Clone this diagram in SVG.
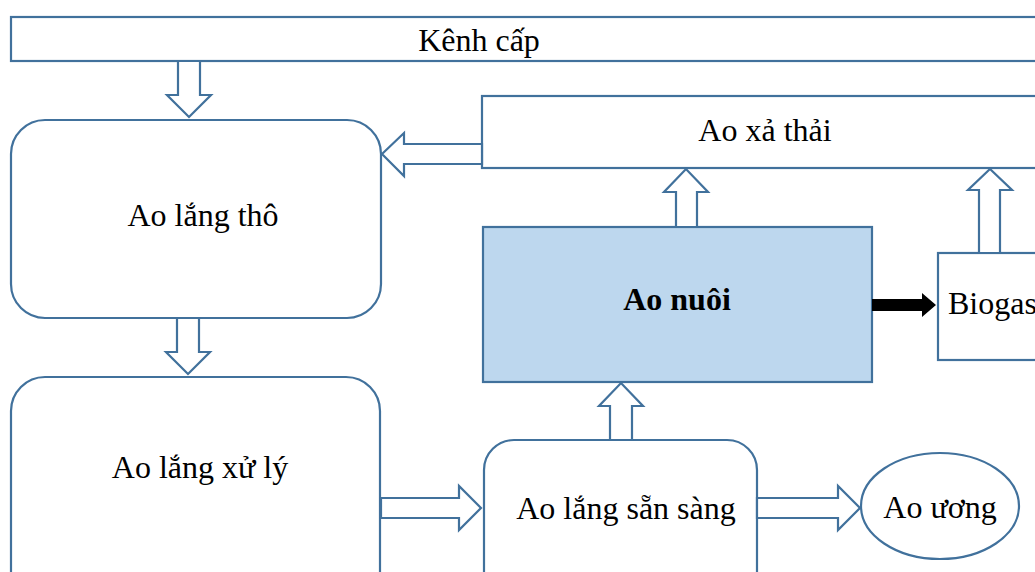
<svg xmlns="http://www.w3.org/2000/svg" width="1035" height="572" viewBox="0 0 1035 572">
<style>
.box{fill:#fff;stroke:#41719C;stroke-width:2.2}
.blue{fill:#BDD7EE;stroke:#41719C;stroke-width:2.2}
.arr{fill:#fff;stroke:#41719C;stroke-width:2.2;stroke-linejoin:miter}
.t{font-family:"Liberation Serif","Times New Roman",serif;font-size:32px;fill:#000;text-anchor:middle}
</style>
<rect width="1035" height="572" fill="#fff"/>
<g id="kenh-cap"><rect class="box" x="11" y="17" width="1040" height="44"/><text class="t" x="479" y="51">Kênh cấp</text></g>
<g id="ao-xa-thai"><rect class="box" x="482" y="96" width="570" height="72"/><text class="t" x="765" y="141">Ao xả thải</text></g>
<g id="ao-lang-tho"><rect class="box" x="11" y="120" width="370" height="198" rx="34"/><text class="t" x="203" y="226">Ao lắng thô</text></g>
<g id="ao-lang-xu-ly"><rect class="box" x="11" y="377" width="369" height="230" rx="34"/><text class="t" x="200" y="478">Ao lắng xử lý</text></g>
<g id="ao-nuoi"><rect class="blue" x="483" y="227" width="389" height="155"/><text class="t" x="677" y="310" font-weight="bold">Ao nuôi</text></g>
<g id="biogas"><rect class="box" x="938" y="253" width="110" height="107"/><text class="t" x="948" y="314" style="text-anchor:start">Biogas</text></g>
<g id="ao-lang-san-sang"><rect class="box" x="484" y="440" width="273" height="170" rx="30"/><text class="t" x="626" y="519">Ao lắng sẵn sàng</text></g>
<g id="ao-uong"><ellipse class="box" cx="940" cy="506" rx="79" ry="53"/><text class="t" x="940" y="518">Ao ương</text></g>
<g id="connectors">
<path class="arr" d="M178,61 V95 H167 L189,117 L211,95 H200 V61 Z"/>
<path class="arr" d="M177,318 V352 H166 L188,374 L210,352 H199 V318 Z"/>
<path class="arr" d="M482,144 H404 V133 L382,154 L404,176 V164 H482 Z"/>
<path class="arr" d="M676,227 V192 H664 L686,169 L708,192 H697 V227 Z"/>
<path class="arr" d="M979,253 V190 H968 L990,169 L1012,190 H1000 V253 Z"/>
<path class="arr" d="M610,440 V406 H599 L621,383 L643,406 H632 V440 Z"/>
<path class="arr" d="M381,498 H459 V486 L481,508 L459,530 V518 H381 Z"/>
<path class="arr" d="M757,498 H838 V486 L860,508 L838,530 V518 H757 Z"/>
<path d="M872,299 H922 V293 L936,305 L922,317 V311 H872 Z" fill="#000"/>
</g>
</svg>
